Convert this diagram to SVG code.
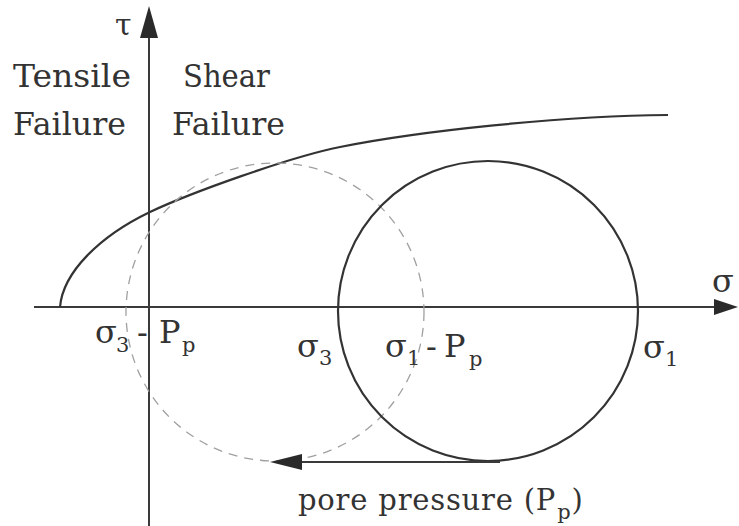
<svg xmlns="http://www.w3.org/2000/svg" width="739" height="526" viewBox="0 0 739 526">
<style>
text{font-family:'DejaVu Serif',serif;font-size:32px;fill:#333}
.s{font-size:21px}
.ax{stroke:#3a3a3a;stroke-width:2;fill:none}
.solid{stroke:#333;stroke-width:2.2;fill:none}
.dash{stroke:#a0a0a0;stroke-width:1.3;fill:none;stroke-dasharray:9 7}
.head{fill:#2a2a2a}
</style>
<rect width="739" height="526" fill="#ffffff"/>
<g id="axes">
<line class="ax" x1="149" y1="36" x2="149" y2="526"/>
<polygon class="head" points="149,6 140,38 158,38"/>
<line class="ax" x1="34" y1="307" x2="716" y2="307"/>
<polygon class="head" points="738,307 714,299 714,315"/>
<text x="115" y="35" style="font-size:30px">τ</text>
<text x="712" y="292">σ</text>
</g>
<g id="region-labels">
<text x="13" y="87" textLength="118" lengthAdjust="spacingAndGlyphs" style="font-size:31px">Tensile</text>
<text x="13" y="135" textLength="113" lengthAdjust="spacingAndGlyphs" style="font-size:31px">Failure</text>
<text x="183" y="87" textLength="87" lengthAdjust="spacingAndGlyphs" style="font-size:31px">Shear</text>
<text x="172" y="135" textLength="113" lengthAdjust="spacingAndGlyphs" style="font-size:31px">Failure</text>
</g>
<g id="envelope">
<path class="solid" stroke-width="2.5" d="M60,307 C63,272 100,236 150,212 C190,193 290,157 340,147 C420,131 560,116 668,115"/>
</g>
<g id="effective-circle">
<circle class="dash" cx="275" cy="312" r="149"/>
</g>
<g id="total-circle">
<circle class="solid" cx="488" cy="311" r="150"/>
</g>
<g id="connectors">
<line class="ax" x1="500" y1="462" x2="298" y2="462"/>
<polygon class="head" points="270,462 302,454 302,470"/>
</g>
<g id="stress-labels">
<text x="95" y="343">σ<tspan class="s" x="116" y="352">3</tspan><tspan x="137" y="343">-</tspan><tspan x="159" y="343">P</tspan><tspan class="s" x="182" y="352">p</tspan></text>
<text x="297" y="357">σ<tspan class="s" x="319" y="365">3</tspan></text>
<text x="385" y="357">σ<tspan class="s" x="407" y="365">1</tspan><tspan x="426" y="357">-</tspan><tspan x="444" y="357">P</tspan><tspan class="s" x="469" y="366">p</tspan></text>
<text x="643" y="358">σ<tspan class="s" x="665" y="366">1</tspan></text>
</g>
<g id="pore-pressure-label">
<text x="298" y="510" style="font-size:29px;letter-spacing:0.8px">pore pressure (P<tspan class="s" dy="9" dx="1">p</tspan><tspan dy="-9">)</tspan></text>
</g>
</svg>
